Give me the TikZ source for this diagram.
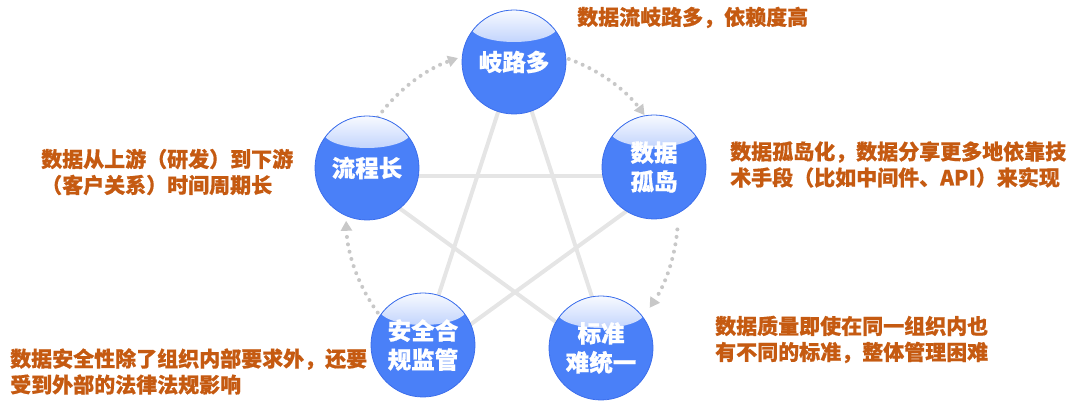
\documentclass[tikz,border=0pt]{standalone}
\usepackage{fontspec}
\newfontfamily\cjk{Noto Sans CJK SC}[BoldFeatures={FakeBold=0.6}]
\usetikzlibrary{arrows.meta}
\definecolor{ballblue}{RGB}{74,128,248}
\definecolor{balledge}{RGB}{60,110,235}
\definecolor{notec}{RGB}{197,90,17}
\definecolor{starc}{RGB}{229,229,229}
\definecolor{dotc}{RGB}{200,200,200}
\begin{document}
\begin{tikzpicture}[x=1pt,y=1pt,
 ball/.style={circle, minimum size=104pt, inner sep=0pt, fill=ballblue, draw=balledge, line width=0.8pt, text=white, align=center, font=\cjk\bfseries\fontsize{23.5}{29}\selectfont,
   path picture={\fill[top color=white!96!ballblue, bottom color=ballblue] ([yshift=-16pt]path picture bounding box.north) ellipse [x radius=44pt, y radius=16pt];}},
 note/.style={anchor=west, inner sep=0pt, align=left, text=notec, font=\cjk\bfseries\fontsize{21}{26}\selectfont},
 starline/.style={draw=starc, line width=4pt},
 cyc/.style={draw=dotc, line width=4pt, line cap=round, dash pattern=on 0pt off 7.5pt, -{Triangle[width=11pt,length=10pt]}}]
\useasboundingbox (0,0) rectangle (1080,404);
% star vertices
\coordinate (s1) at ([shift={(515,176)}]90:168);
\coordinate (s2) at ([shift={(515,176)}]162:168);
\coordinate (s3) at ([shift={(515,176)}]18:168);
\coordinate (s4) at ([shift={(515,176)}]234:168);
\coordinate (s5) at ([shift={(515,176)}]-54:168);
\draw[starline] (s1) -- (s4);
\draw[starline] (s1) -- (s5);
\draw[starline] (s2) -- (s3);
\draw[starline] (s2) -- (s5);
\draw[starline] (s3) -- (s4);
% cycle arcs
\coordinate (a1) at ([shift={(512,189)}]144:166);
\coordinate (a2) at ([shift={(512,189)}]70:166);
\coordinate (a3) at ([shift={(512,189)}]-5:166);
\coordinate (a4) at ([shift={(512,189)}]216:166);
\draw[cyc] (a1) arc[start angle=144, end angle=109, radius=166];
\draw[cyc] (a2) arc[start angle=70, end angle=37, radius=166];
\draw[cyc] (a3) arc[start angle=-5, end angle=-34, radius=166];
\draw[cyc] (a4) arc[start angle=216, end angle=182, radius=166];
% balls
\node[ball] (qi) at (514,342) {岐路多};
\node[ball] (gd) at (654,237) {数据\\孤岛};
\node[ball] (lc) at (367,236) {流程长};
\node[ball] (aq) at (423,59) {安全合\\规监管};
\node[ball] (bz) at (601,56) {标准\\难统一};
% notes
\node[note] (t1) at (577,386.5) {数据流岐路多，依赖度高};
\node[note] (t2) at (730,239.5) {数据孤岛化，数据分享更多地依靠技\\术手段（比如中间件、API）来实现};
\node[note] (t3) at (41,232) {数据从上游（研发）到下游\\（客户关系）时间周期长};
\node[note] (t4) at (10,32.5) {数据安全性除了组织内部要求外，还要\\受到外部的法律法规影响};
\node[note] (t5) at (715,64.5) {数据质量即使在同一组织内也\\有不同的标准，整体管理困难};
\end{tikzpicture}
\end{document}
